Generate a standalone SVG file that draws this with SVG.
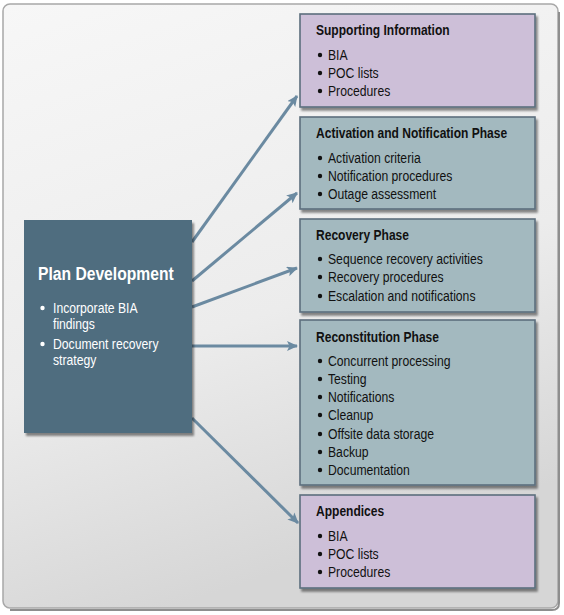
<svg xmlns="http://www.w3.org/2000/svg" width="564" height="615" viewBox="0 0 564 615">
<defs>
<linearGradient id="bg" x1="0" y1="0" x2="0.3" y2="1">
<stop offset="0" stop-color="#f7f7f7"/>
<stop offset="0.6" stop-color="#ececec"/>
<stop offset="1" stop-color="#d6d6d6"/>
</linearGradient>
<marker id="ah" markerUnits="userSpaceOnUse" markerWidth="12" markerHeight="10" refX="10" refY="5" orient="auto">
<path d="M0,0 L11,5 L0,10 L2.5,5 Z" fill="#6b8aa1"/>
</marker>
<filter id="sh" x="-5%" y="-5%" width="115%" height="115%">
<feGaussianBlur in="SourceAlpha" stdDeviation="1"/>
<feOffset dx="2" dy="3" result="o"/>
<feComponentTransfer><feFuncA type="linear" slope="0.45"/></feComponentTransfer>
<feMerge><feMergeNode/><feMergeNode in="SourceGraphic"/></feMerge>
</filter>
</defs>
<style>
.t{font-family:"Liberation Sans",Arial,sans-serif;font-weight:bold;font-size:14px;fill:#111}
.b{font-family:"Liberation Sans",Arial,sans-serif;font-size:14px;fill:#111}
.pt{font-family:"Liberation Sans",Arial,sans-serif;font-weight:bold;font-size:18px;fill:#fff}
.pb{font-family:"Liberation Sans",Arial,sans-serif;font-size:14px;fill:#fff}
.purple{fill:#cdbfd8;stroke:#5c6f7d;stroke-width:1.6}
.blue{fill:#a3b9bf;stroke:#5c6f7d;stroke-width:1.6}
.dot{fill:#111}
.conn{stroke:#6b8aa1;stroke-width:3;fill:none;marker-end:url(#ah)}
</style>
<rect x="3" y="4" width="555" height="604" rx="7" fill="url(#bg)" stroke="#a8a8a8" stroke-width="1.5"/>
<path d="M559,12 L559,603 Q559,610 552,610 L10,610" fill="none" stroke="#8e8e8e" stroke-width="2"/>

<g id="connectors">
<line class="conn" x1="192" y1="242" x2="297" y2="96"/>
<line class="conn" x1="192" y1="281" x2="297" y2="193"/>
<line class="conn" x1="192" y1="307" x2="297" y2="268"/>
<line class="conn" x1="192" y1="346" x2="297" y2="346"/>
<line class="conn" x1="192" y1="418" x2="298" y2="523"/>
</g>

<g id="plan">
<rect x="24" y="220" width="168" height="213" fill="#4f6d7f" filter="url(#sh)"/>
<text class="pt" transform="translate(38,280) scale(0.87,1)">Plan Development</text>
<circle cx="42.5" cy="308" r="2.2" fill="#fff"/>
<text class="pb" transform="translate(53,313) scale(0.87,1)">Incorporate BIA</text>
<text class="pb" transform="translate(53,329) scale(0.87,1)">findings</text>
<circle cx="42.5" cy="344" r="2.2" fill="#fff"/>
<text class="pb" transform="translate(53,349) scale(0.87,1)">Document recovery</text>
<text class="pb" transform="translate(53,365) scale(0.87,1)">strategy</text>
</g>

<g id="supporting">
<rect class="purple" x="300" y="14" width="235" height="93" filter="url(#sh)"/>
<text class="t" transform="translate(316,35) scale(0.86,1)">Supporting Information</text>
<circle class="dot" cx="320" cy="55" r="2.2"/>
<text class="b" transform="translate(328,60) scale(0.87,1)">BIA</text>
<circle class="dot" cx="320" cy="73" r="2.2"/>
<text class="b" transform="translate(328,78) scale(0.87,1)">POC lists</text>
<circle class="dot" cx="320" cy="91" r="2.2"/>
<text class="b" transform="translate(328,96) scale(0.87,1)">Procedures</text>
</g>

<g id="activation">
<rect class="blue" x="300" y="117" width="235" height="92" filter="url(#sh)"/>
<text class="t" transform="translate(316,138) scale(0.86,1)">Activation and Notification Phase</text>
<circle class="dot" cx="320" cy="158" r="2.2"/>
<text class="b" transform="translate(328,163) scale(0.87,1)">Activation criteria</text>
<circle class="dot" cx="320" cy="176" r="2.2"/>
<text class="b" transform="translate(328,181) scale(0.87,1)">Notification procedures</text>
<circle class="dot" cx="320" cy="194" r="2.2"/>
<text class="b" transform="translate(328,199) scale(0.87,1)">Outage assessment</text>
</g>

<g id="recovery">
<rect class="blue" x="300" y="219" width="235" height="93" filter="url(#sh)"/>
<text class="t" transform="translate(316,240) scale(0.86,1)">Recovery Phase</text>
<circle class="dot" cx="320" cy="259" r="2.2"/>
<text class="b" transform="translate(328,264) scale(0.87,1)">Sequence recovery activities</text>
<circle class="dot" cx="320" cy="277" r="2.2"/>
<text class="b" transform="translate(328,282) scale(0.87,1)">Recovery procedures</text>
<circle class="dot" cx="320" cy="296" r="2.2"/>
<text class="b" transform="translate(328,301) scale(0.87,1)">Escalation and notifications</text>
</g>

<g id="reconstitution">
<rect class="blue" x="300" y="320" width="235" height="165" filter="url(#sh)"/>
<text class="t" transform="translate(316,342) scale(0.86,1)">Reconstitution Phase</text>
<circle class="dot" cx="320" cy="361" r="2.2"/>
<text class="b" transform="translate(328,366) scale(0.87,1)">Concurrent processing</text>
<circle class="dot" cx="320" cy="379" r="2.2"/>
<text class="b" transform="translate(328,384) scale(0.87,1)">Testing</text>
<circle class="dot" cx="320" cy="397" r="2.2"/>
<text class="b" transform="translate(328,402) scale(0.87,1)">Notifications</text>
<circle class="dot" cx="320" cy="415" r="2.2"/>
<text class="b" transform="translate(328,420) scale(0.87,1)">Cleanup</text>
<circle class="dot" cx="320" cy="434" r="2.2"/>
<text class="b" transform="translate(328,439) scale(0.87,1)">Offsite data storage</text>
<circle class="dot" cx="320" cy="452" r="2.2"/>
<text class="b" transform="translate(328,457) scale(0.87,1)">Backup</text>
<circle class="dot" cx="320" cy="470" r="2.2"/>
<text class="b" transform="translate(328,475) scale(0.87,1)">Documentation</text>
</g>

<g id="appendices">
<rect class="purple" x="300" y="495" width="235" height="93" filter="url(#sh)"/>
<text class="t" transform="translate(316,516) scale(0.86,1)">Appendices</text>
<circle class="dot" cx="320" cy="536" r="2.2"/>
<text class="b" transform="translate(328,541) scale(0.87,1)">BIA</text>
<circle class="dot" cx="320" cy="554" r="2.2"/>
<text class="b" transform="translate(328,559) scale(0.87,1)">POC lists</text>
<circle class="dot" cx="320" cy="572" r="2.2"/>
<text class="b" transform="translate(328,577) scale(0.87,1)">Procedures</text>
</g>
</svg>
